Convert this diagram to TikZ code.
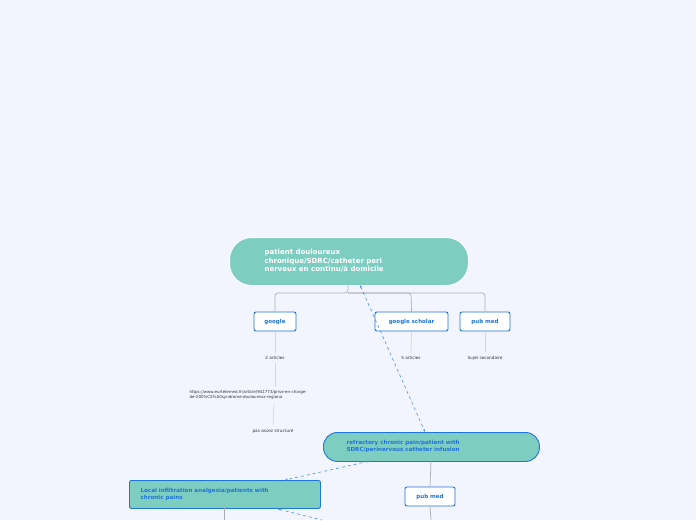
\documentclass[tikz,border=0pt]{standalone}
\usepackage{fontspec}
\setmainfont{DejaVu Sans}
\usetikzlibrary{arrows.meta}
\definecolor{bg}{HTML}{F3F5FE}
\definecolor{teal}{HTML}{7ECDC1}
\definecolor{blu}{HTML}{1F74D9}
\definecolor{gr}{HTML}{A9ADB3}
\definecolor{grl}{HTML}{D3D6DC}
\tikzset{
 pill/.style={fill=teal,rounded corners=14pt,anchor=north west,inner sep=0,align=left,font=\bfseries\fontsize{7}{8.5}\selectfont},
 sub/.style={draw=blu,fill=white,rounded corners=2pt,line width=0.9pt,text=blu,font=\bfseries\fontsize{5.5}{6}\selectfont,minimum height=19pt,inner sep=0},
 lbl/.style={font=\fontsize{4.2}{5}\selectfont,text=black!80},
 conn/.style={gr,line width=0.7pt},
 connl/.style={grl,line width=0.7pt},
 dashlink/.style={blu!80,dashed,line width=0.6pt,{Stealth[length=3pt]}-{Stealth[length=3pt]}}
}
\begin{document}
\begin{tikzpicture}[x=1pt,y=-1pt]
\fill[bg] (0,0) rectangle (696,520);
\useasboundingbox (0,0) rectangle (696,520);
% root
\node[pill,draw=white,line width=1pt,minimum width=239pt,minimum height=48pt,rounded corners=22pt] (root) at (229,237) {};
\node[anchor=west,align=left,text=white,font=\bfseries\fontsize{7}{8.6}\selectfont] (roott) at (261,261) {patient douloureux\\chronique/SDRC/catheter peri\\nerveux en continu/à domicile};
% children
\node[sub,minimum width=42pt] (g) at (275,321.5) {google};
\node[sub,minimum width=73pt] (gs) at (411.5,321.5) {google scholar};
\node[sub,minimum width=50pt] (pm) at (485,321.5) {pub med};
\coordinate (rb) at (348,285);
\draw[conn,rounded corners=3pt] (rb) -- (348,293) -- (275,293) -- (g.north);
\draw[conn,rounded corners=3pt] (348,293) -- (485,293) -- (pm.north);
\draw[conn,rounded corners=3pt] (348,293) -- (411,293) -- (gs.north);
\node[lbl] (t2) at (275,358) {2 articles};
\node[lbl] (t5) at (411,358) {5 articles};
\node[lbl] (ts) at (485,358) {Sujet secondaire};
\node[lbl,anchor=west,align=left,font=\fontsize{4}{5}\selectfont] (url) at (186,395) {https://www.eurtelemed.fr/article/941773/prise-en-charge-\\de-200\%C2\%A0syndrome-douloureux-regiona};
\node[lbl] (pas) at (273,431) {pas assez structuré};
\draw[connl] (g.south) -- (t2.north);
\draw[connl] (gs.south) -- (t5.north);
\draw[connl] (pm.south) -- (ts.north);
\draw[connl] (t2.south) -- (275,387);
\draw[connl] (274,404) -- (pas.north);
% refractory
\node[pill,draw=blu,line width=0.9pt,minimum width=216pt,minimum height=29pt] (ref) at (323,432) {};
\node[anchor=west,align=left,text=blu,font=\bfseries\fontsize{5.6}{7}\selectfont] (reft) at (343,446.5) {refractory chronic pain/patient with\\SDRC/perinervous catheter infusion};
\draw[dashlink] (360,285) -- (425,432);
% local
\node[draw=blu,fill=teal,line width=0.9pt,rounded corners=2pt,minimum width=191pt,minimum height=28pt,anchor=north west,inner sep=0] (loc) at (129,480) {};
\node[anchor=west,align=left,text=blu,font=\bfseries\fontsize{5.6}{7}\selectfont] (loct) at (137,494) {Local infiltration analgesia/patients with\\chronic pains};
\draw[dashlink] (370,461) -- (285,480);
\node[sub,minimum width=50pt] (pm2) at (430,496.5) {pub med};
\coordinate (e1) at (431,520);
\coordinate (e2) at (224,520);
\coordinate (e3) at (322,520);
\draw[conn] (431,461) -- (pm2.north);
\draw[conn] (pm2.south) -- (e1);
\draw[conn] (224,508) -- (e2);
\draw[blu!80,dashed,line width=0.6pt,{Stealth[length=3pt]}-] (278,509) -- (e3);
\end{tikzpicture}
\end{document}
